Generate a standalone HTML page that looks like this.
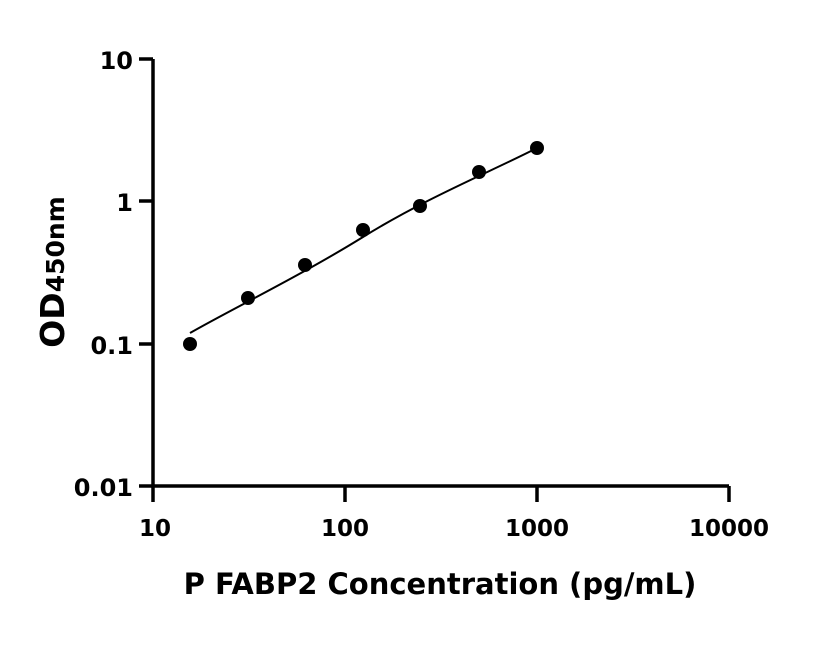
<!DOCTYPE html><html><head><style>body{margin:0;background:#fff}</style></head><body>
<svg width="816" height="640" xmlns="http://www.w3.org/2000/svg" font-family="DejaVu Sans, Liberation Sans, sans-serif" font-weight="bold">
<g stroke="#000" stroke-width="3.5" fill="none">
<path d="M153 59V486H729"/>
<path d="M139 59H153M139 201H153M139 344H153M139 486H153"/>
<path d="M153 486V502M345 486V502M537 486V502M729 486V502"/>
</g>
<g font-size="24" text-anchor="end">
<text x="133" y="69">10</text><text x="133" y="211">1</text><text x="133" y="354">0.1</text><text x="133" y="496">0.01</text>
</g>
<g font-size="23" text-anchor="middle">
<text x="155" y="536">10</text><text x="345" y="536">100</text><text x="537" y="536">1000</text><text x="729" y="536">10000</text>
</g>
<text x="440" y="594" font-size="29" text-anchor="middle">P FABP2 Concentration (pg/mL)</text>
<text transform="translate(64,272) rotate(-90)" font-size="33" text-anchor="middle">OD<tspan font-size="25">450nm</tspan></text>
<path d="M190 333 C 230 310, 300 276, 363 237 S 490 172, 537 148" stroke="#000" stroke-width="2" fill="none"/>
<g fill="#000">
<circle cx="190" cy="344" r="7"/><circle cx="248" cy="298" r="7"/><circle cx="305" cy="265" r="7"/>
<circle cx="363" cy="230" r="7"/><circle cx="420" cy="206" r="7"/><circle cx="479" cy="172" r="7"/><circle cx="537" cy="148" r="7"/>
</g>
</svg></body></html>
